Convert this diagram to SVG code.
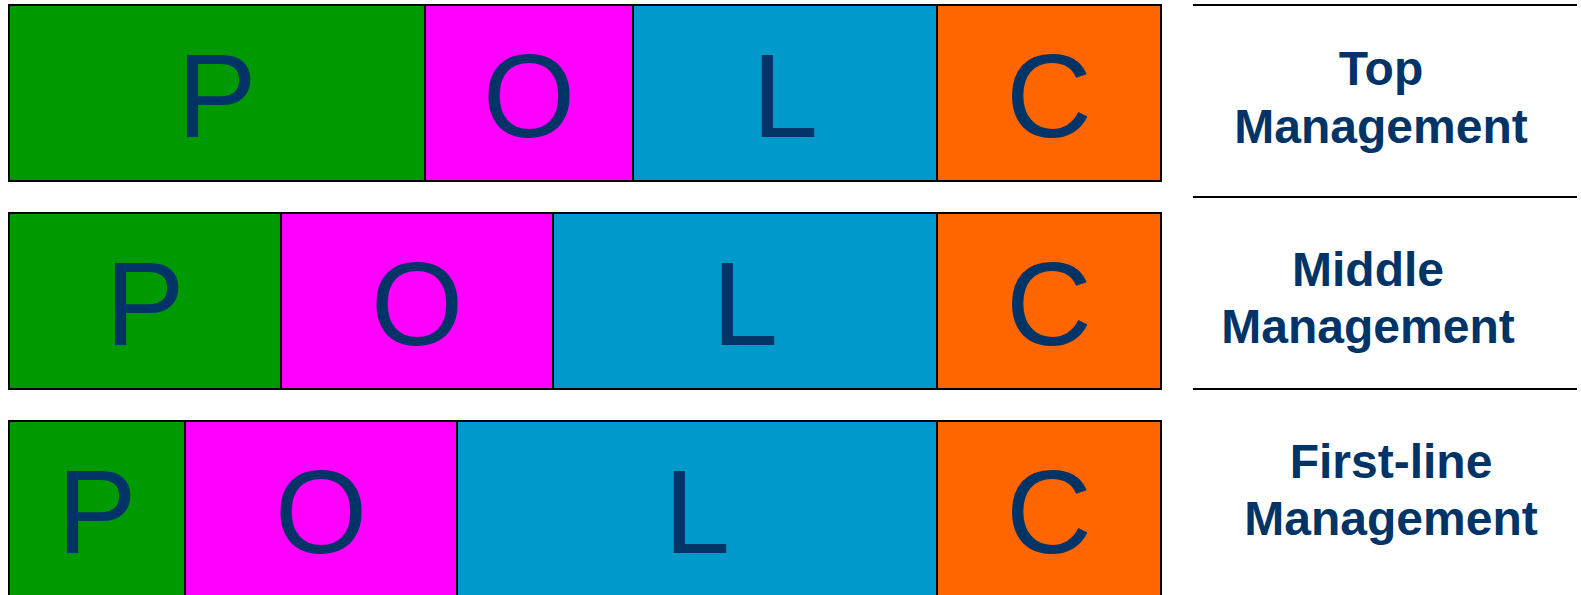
<svg xmlns="http://www.w3.org/2000/svg" width="1581" height="595" viewBox="0 0 1581 595">
<style>
.c{stroke:#000;stroke-width:2}
.p{fill:#009900}.o{fill:#FF00FF}.l{fill:#0099CC}.k{fill:#FF6600}
.big{font-family:"Liberation Sans",Arial,sans-serif;font-size:119px;fill:#003366;text-anchor:middle}
.lab{font-family:"Liberation Sans",Arial,sans-serif;font-size:48px;font-weight:bold;fill:#003366;text-anchor:middle}
.sep{stroke:#000;stroke-width:2}
</style>
<rect width="1581" height="595" fill="#fff"/>
<g id="top-row">
<rect class="c p" x="9" y="5" width="416" height="176"/>
<rect class="c o" x="425" y="5" width="208" height="176"/>
<rect class="c l" x="633" y="5" width="304" height="176"/>
<rect class="c k" x="937" y="5" width="224" height="176"/>
<text class="big" x="217" y="137">P</text>
<text class="big" x="529" y="137">O</text>
<text class="big" x="785" y="137">L</text>
<text class="big" x="1049" y="137">C</text>
</g>
<g id="middle-row">
<rect class="c p" x="9" y="213" width="272" height="176"/>
<rect class="c o" x="281" y="213" width="272" height="176"/>
<rect class="c l" x="553" y="213" width="384" height="176"/>
<rect class="c k" x="937" y="213" width="224" height="176"/>
<text class="big" x="145" y="345">P</text>
<text class="big" x="417" y="345">O</text>
<text class="big" x="745" y="345">L</text>
<text class="big" x="1049" y="345">C</text>
</g>
<g id="first-line-row">
<rect class="c p" x="9" y="421" width="176" height="180"/>
<rect class="c o" x="185" y="421" width="272" height="180"/>
<rect class="c l" x="457" y="421" width="480" height="180"/>
<rect class="c k" x="937" y="421" width="224" height="180"/>
<text class="big" x="97" y="553">P</text>
<text class="big" x="321" y="553">O</text>
<text class="big" x="697" y="553">L</text>
<text class="big" x="1049" y="553">C</text>
</g>
<g id="separators">
<line class="sep" x1="1193" y1="5" x2="1577" y2="5"/>
<line class="sep" x1="1193" y1="197" x2="1577" y2="197"/>
<line class="sep" x1="1193" y1="389" x2="1577" y2="389"/>
</g>
<g id="label-top">
<text class="lab" x="1381" y="85">Top</text>
<text class="lab" x="1381" y="143">Management</text>
</g>
<g id="label-middle">
<text class="lab" x="1368" y="286">Middle</text>
<text class="lab" x="1368" y="343">Management</text>
</g>
<g id="label-first">
<text class="lab" x="1391" y="478">First-line</text>
<text class="lab" x="1391" y="535">Management</text>
</g>
</svg>
